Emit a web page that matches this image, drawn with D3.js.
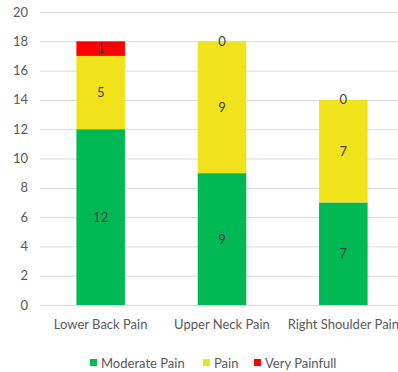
<!DOCTYPE html>
<html>
<head>
<meta charset="utf-8">
<script src="https://cdn.jsdelivr.net/npm/d3@7"></script>
<style>
  body { margin: 0; background: #fff; }
  text { font-family: Lato, "Open Sans", sans-serif; }
</style>
</head>
<body>
<div id="chart"></div>
<script>
// data
const categories = ["Lower Back Pain", "Upper Neck Pain", "Right Shoulder Pain"];
const seriesNames = ["Moderate Pain", "Pain", "Very Painfull"];
const moderate = [12, 9, 7];
const pain = [5, 9, 7];
const veryPainfull = [1, 0, 0];
const yTicks = [0, 2, 4, 6, 8, 10, 12, 14, 16, 18, 20];

const colors = ["#00B955", "#F1E31B", "#FF0000"];

const width = 398, height = 372;
const margin = {top: 12, right: -6, bottom: 67, left: 40};
const innerW = width - margin.left - margin.right;
const innerH = height - margin.top - margin.bottom;

const rows = categories.map((c, i) => ({
  cat: c,
  "Moderate Pain": moderate[i],
  "Pain": pain[i],
  "Very Painfull": veryPainfull[i]
}));
const stacked = d3.stack().keys(seriesNames)(rows);

const svg = d3.select("#chart").append("svg")
  .attr("width", width)
  .attr("height", height);
const g = svg.append("g")
  .attr("transform", `translate(${margin.left},${margin.top})`);

const x = d3.scaleBand().domain(categories).range([0, innerW]).paddingInner(0.6).paddingOuter(0.3);
const y = d3.scaleLinear().domain([0, 20]).range([innerH, 0]);

// gridlines
g.selectAll("line.grid")
  .data(yTicks)
  .join("line")
  .attr("class", "grid")
  .attr("x1", 0)
  .attr("x2", innerW)
  .attr("y1", d => y(d) + 0.5)
  .attr("y2", d => y(d) + 0.5)
  .attr("stroke", "#d9d9d9")
  .attr("stroke-width", 1);

// y labels
g.selectAll("text.ytick")
  .data(yTicks)
  .join("text")
  .attr("class", "ytick")
  .attr("x", -12)
  .attr("y", d => y(d))
  .attr("dy", "0.35em")
  .attr("text-anchor", "end")
  .attr("fill", "#595959")
  .attr("font-size", 13)
  .text(d => d);

// bars
const layers = g.selectAll("g.layer")
  .data(stacked)
  .join("g")
  .attr("class", "layer")
  .attr("fill", (d, i) => colors[i]);

layers.selectAll("rect")
  .data(d => d)
  .join("rect")
  .attr("x", d => x(d.data.cat))
  .attr("y", d => y(d[1]))
  .attr("width", x.bandwidth())
  .attr("height", d => y(d[0]) - y(d[1]));

// value labels
layers.selectAll("text")
  .data(d => d.map(v => ({v, key: d.key})))
  .join("text")
  .attr("x", d => x(d.v.data.cat) + x.bandwidth() / 2)
  .attr("y", d => y((d.v[0] + d.v[1]) / 2))
  .attr("dy", "0.35em")
  .attr("text-anchor", "middle")
  .attr("fill", "#404040")
  .attr("font-size", 13)
  .text(d => d.v.data[d.key]);

// category labels
g.selectAll("text.xtick")
  .data(categories)
  .join("text")
  .attr("class", "xtick")
  .attr("x", d => x(d) + x.bandwidth() / 2)
  .attr("y", innerH + 19)
  .attr("dy", "0.35em")
  .attr("text-anchor", "middle")
  .attr("fill", "#595959")
  .attr("font-size", 13)
  .text(d => d);

// legend
const legendX = [90, 203, 254];
const legend = svg.selectAll("g.legend")
  .data(seriesNames)
  .join("g")
  .attr("class", "legend")
  .attr("transform", (d, i) => `translate(${legendX[i]},363)`);
legend.append("rect")
  .attr("x", 0).attr("y", -4)
  .attr("width", 7).attr("height", 7)
  .attr("fill", (d, i) => colors[i]);
legend.append("text")
  .attr("x", 11)
  .attr("y", 0)
  .attr("dy", "0.35em")
  .attr("fill", "#595959")
  .attr("font-size", 13)
  .text(d => d);
</script>
</body>
</html>
